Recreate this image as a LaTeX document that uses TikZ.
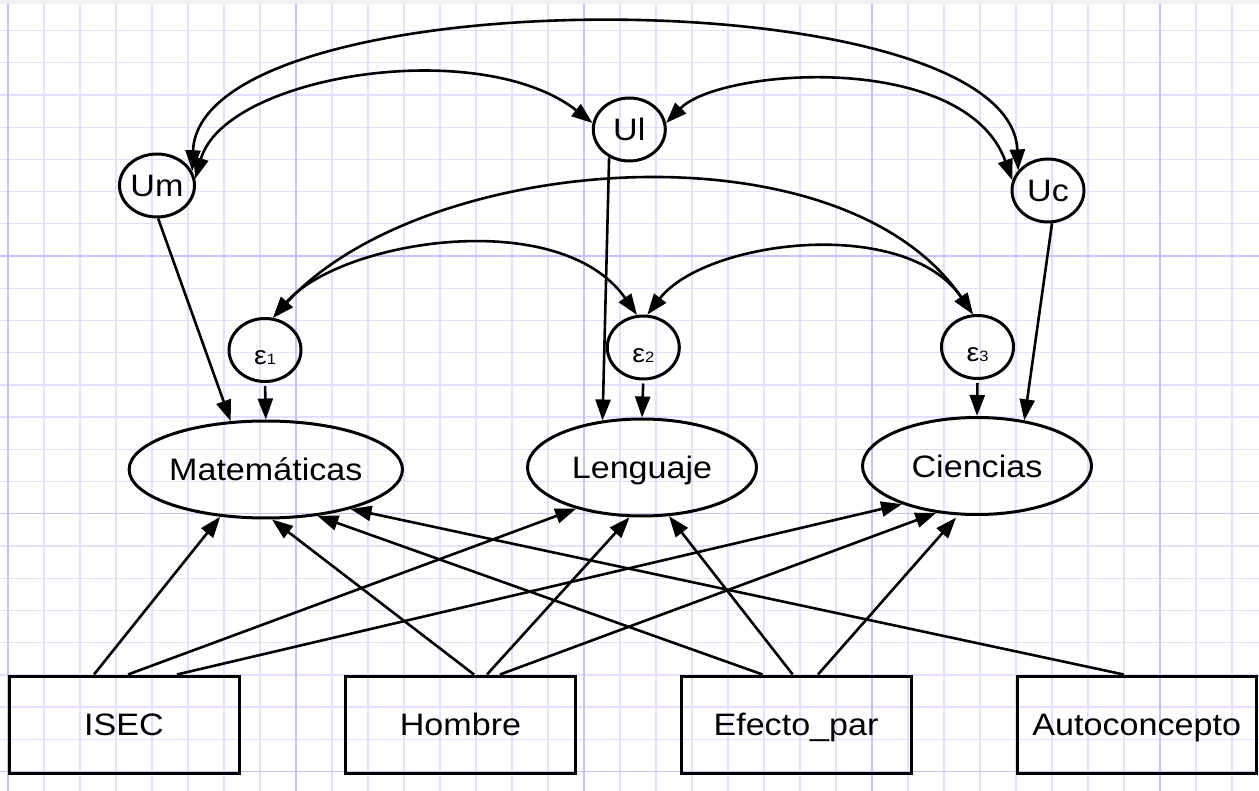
\documentclass[tikz,border=0pt]{standalone}
\usepackage{fontspec}
\setmainfont{Liberation Sans}[FakeStretch=1.1]
\usetikzlibrary{arrows.meta,shapes.geometric}

\definecolor{gridminor}{RGB}{224,224,255}
\definecolor{gridmajor}{RGB}{196,196,250}

\begin{document}
\begin{tikzpicture}[x=1pt,y=-1pt,
  lbl/.style={font=\fontsize{31}{36}\selectfont, text depth=0pt},
  latent/.style={draw, line width=3pt, ellipse, minimum width=72pt,
    minimum height=63pt, inner sep=0pt, lbl},
  outcome/.style={draw, line width=3pt, ellipse, minimum width=229pt,
    minimum height=97pt, inner sep=0pt, lbl},
  observed/.style={draw, line width=3pt, rectangle, minimum width=230pt,
    minimum height=97pt, inner sep=0pt, lbl},
  epslab/.style={font=\fontsize{26}{30}\selectfont, inner sep=0pt, yshift=-8pt},
  path/.style={line width=2.6pt, -{Triangle[length=21pt,width=15pt]}},
  cov/.style={line width=2.6pt,
    {Triangle[length=21pt,width=15pt]}-{Triangle[length=21pt,width=15pt]}},
]
\useasboundingbox (0,0) rectangle (1259,791);

% squared paper background
\fill[white] (0,0) rectangle (1259,791);
\fill[black!5] (0,0) rectangle (1259,4);
\foreach \k in {0,...,34} {
  \pgfmathsetmacro\gx{8+36*\k}
  \draw[gridminor, line width=1.3pt] (\gx,4) -- (\gx,791);
}
\foreach \j in {0,...,23} {
  \pgfmathsetmacro\gy{30.5+32.22*\j}
  \draw[gridminor, line width=1.3pt] (0,\gy) -- (1259,\gy);
}
\foreach \k in {0,8,16,24,32} {
  \pgfmathsetmacro\gx{8+36*\k}
  \draw[gridmajor, line width=1.3pt] (\gx,4) -- (\gx,791);
}
\foreach \j in {7,15,23} {
  \pgfmathsetmacro\gy{30.5+32.22*\j}
  \draw[gridmajor, line width=1.3pt] (0,\gy) -- (1259,\gy);
}

% unique factors
\node[latent] (um) at (157,185.5) {Um};
\node[latent] (ul) at (629.3,129.5) {Ul};
\node[latent] (uc) at (1048,190.5) {Uc};

% disturbances
\node[latent, label={[epslab]center:{ε{\fontsize{15}{18}\selectfont 1}}}] (e1) at (265,350) {};
\node[latent, label={[epslab]center:{ε{\fontsize{15}{18}\selectfont 2}}}] (e2) at (643.3,347.5) {};
\node[latent, label={[epslab]center:{ε{\fontsize{15}{18}\selectfont 3}}}] (e3) at (977.5,347) {};

% outcomes
\node[outcome] (mat) at (265.8,469.5) {Matemáticas};
\node[outcome] (len) at (642,467.5) {Lenguaje};
\node[outcome] (cie) at (977,466) {Ciencias};

% predictors
\node[observed] (isec) at (124,724.5) {ISEC};
\node[observed] (hom) at (460.5,724.5) {Hombre};
\node[observed] (efp) at (796,724.5) {Efecto\_par};
\node[observed, minimum width=238.5pt] (aut) at (1136.75,724.5) {Autoconcepto};

% covariances between unique factors
\draw[cov] (um.22) .. controls (200,-24) and (1010,-24) .. (uc.146);
\draw[cov] (um.10) .. controls (225,75) and (480,35) .. (ul.170);
\draw[cov] (ul.10) .. controls (720,68) and (965,50) .. (uc.164);

% covariances between disturbances
\draw[cov] (e1.76) .. controls (423,153) and (840,120) .. (e3.98);
\draw[cov] (e1.76) .. controls (340,240) and (560,205) .. (e2.101);
\draw[cov] (e2.83) .. controls (705,240) and (905,215) .. (e3.98);

% factor and disturbance loadings
\draw[path] (um.-88) -- (mat.126);
\draw[path, shorten <=3pt] (e1.south) -- (mat.north);
\draw[path] (ul.-126) -- (len.130);
\draw[path, shorten <=3pt] (e2.south) -- (len.north);
\draw[path, shorten <=3pt] (e3.south) -- (cie.north);
\draw[path] (uc.-83) -- (cie.44);

% regressions on the predictors
\draw[path] ([xshift=-30pt]isec.north) -- (mat.-134.6);
\draw[path] ([xshift=4pt]isec.north) -- (len.-148);
\draw[path] ([xshift=53pt]isec.north) -- (cie.-153);

\draw[path] ([xshift=13.5pt]hom.north) -- (mat.-83);
\draw[path] ([xshift=26.5pt]hom.north) -- (len.-104);
\draw[path] ([xshift=39.5pt]hom.north) -- (cie.-131);

\draw[path] ([xshift=-33.5pt]efp.north) -- (mat.-42);
\draw[path] ([xshift=-3.3pt]efp.north) -- (len.-61);
\draw[path, shorten >=3pt] ([xshift=22pt]efp.north) -- (cie.-111);

\draw[path] ([xshift=-13pt]aut.north) -- (mat.-25);
\end{tikzpicture}
\end{document}
